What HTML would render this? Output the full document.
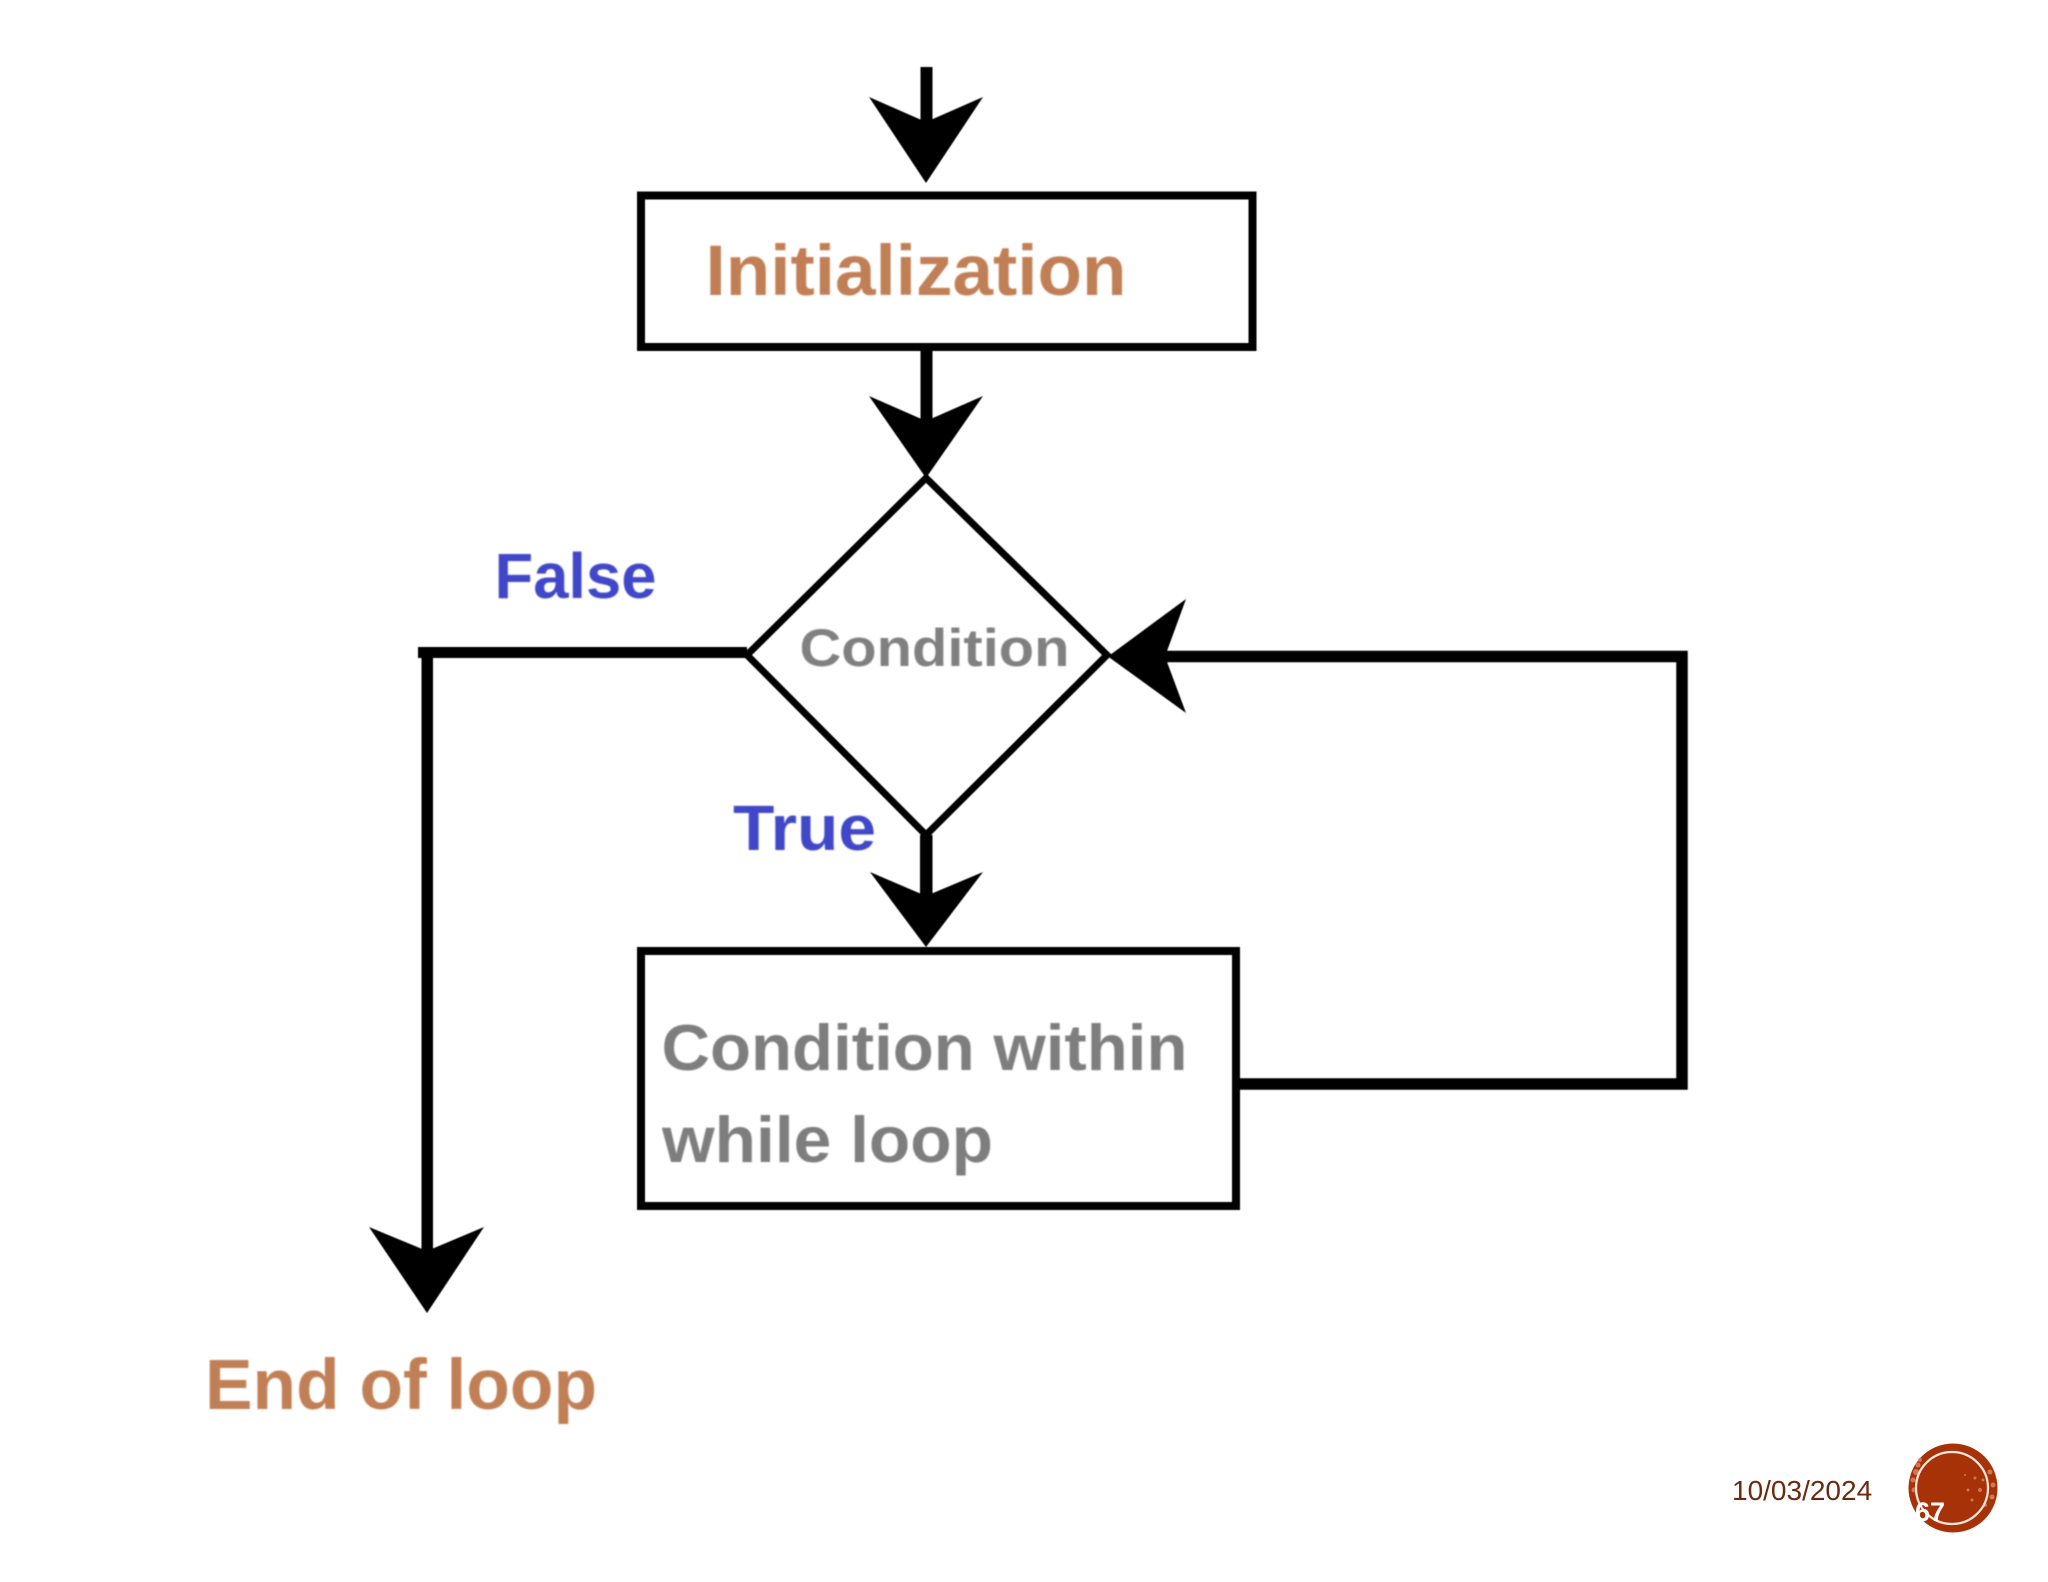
<!DOCTYPE html>
<html>
<head>
<meta charset="utf-8">
<style>
html,body{margin:0;padding:0;background:#fff;}
svg{display:block;}
.t{font-family:"Liberation Sans",sans-serif;font-weight:700;}
</style>
</head>
<body>
<svg width="2048" height="1582" viewBox="0 0 2048 1582" xmlns="http://www.w3.org/2000/svg">
<defs>
<filter id="b1" x="-5%" y="-5%" width="110%" height="110%"><feGaussianBlur stdDeviation="0.5"/></filter>
<filter id="b2" x="-5%" y="-20%" width="110%" height="140%"><feGaussianBlur stdDeviation="0.7"/></filter>
</defs>
<rect width="2048" height="1582" fill="#fff"/>
<g filter="url(#b1)">
<rect x="641" y="195.5" width="611.5" height="151.5" fill="none" stroke="#000" stroke-width="8"/>
<rect x="641" y="951" width="595" height="255" fill="none" stroke="#000" stroke-width="8"/>
<polygon points="926,478 1107,655 926,835 747,655" fill="none" stroke="#000" stroke-width="7"/>
<rect x="920.5" y="67" width="12" height="60" fill="#000"/>
<polygon points="869,97 926,122 983,97 926,183" fill="#000"/>
<rect x="920.5" y="347" width="12" height="85" fill="#000"/>
<polygon points="869,396 926,421 983,396 926,478" fill="#000"/>
<rect x="920" y="835" width="12.5" height="75" fill="#000"/>
<polygon points="870,872 926,896 983,872 926,947" fill="#000"/>
<rect x="418" y="647" width="329" height="11" fill="#000"/>
<rect x="421.5" y="647" width="11.5" height="620" fill="#000"/>
<polygon points="369,1227 427,1251 484,1227 427,1313" fill="#000"/>
<polygon points="1108,656.5 1186,599 1165,656.5 1186,713" fill="#000"/>
<path d="M1160,656.5 H1682 V1084 H1240" fill="none" stroke="#000" stroke-width="11.5"/>
</g>
<g class="t" filter="url(#b2)">
<text x="705.5" y="295" font-size="71" fill="#c17f54" textLength="421" lengthAdjust="spacingAndGlyphs">Initialization</text>
<text x="494.5" y="598" font-size="64" fill="#4046c8" textLength="162" lengthAdjust="spacingAndGlyphs">False</text>
<text x="799.5" y="666" font-size="53" fill="#808080" textLength="270" lengthAdjust="spacingAndGlyphs">Condition</text>
<text x="733" y="850" font-size="64" fill="#4046c8" textLength="143" lengthAdjust="spacingAndGlyphs">True</text>
<text x="661.5" y="1070" font-size="65" fill="#7e7e7e" textLength="526" lengthAdjust="spacingAndGlyphs">Condition within</text>
<text x="662" y="1162" font-size="65" fill="#7e7e7e" textLength="331" lengthAdjust="spacingAndGlyphs">while loop</text>
<text x="205" y="1409" font-size="71" fill="#c17f54" textLength="392" lengthAdjust="spacingAndGlyphs">End of loop</text>
</g>
<text x="1732" y="1500" font-family="Liberation Sans, sans-serif" font-size="28" fill="#6a2a10">10/03/2024</text>
<circle cx="1953" cy="1488" r="44.5" fill="#a83208"/>
<g fill="#d98a66" opacity="0.8">
<circle cx="1916" cy="1472" r="3"/><circle cx="1913" cy="1480" r="2.5"/><circle cx="1918" cy="1465" r="2.5"/><circle cx="1914" cy="1490" r="2.5"/><circle cx="1920" cy="1460" r="2"/>
<circle cx="1993" cy="1485" r="2.5"/><circle cx="1990" cy="1472" r="2.5"/><circle cx="1992" cy="1497" r="2.5"/><circle cx="1985" cy="1505" r="2"/>
<circle cx="1975" cy="1478" r="1.5"/><circle cx="1968" cy="1490" r="1.5"/><circle cx="1980" cy="1490" r="2"/><circle cx="1972" cy="1500" r="1.5"/><circle cx="1983" cy="1480" r="1.5"/><circle cx="1965" cy="1475" r="1"/>
</g>
<circle cx="1952" cy="1488" r="36" fill="none" stroke="#fbe9df" stroke-width="2.2"/>
<text x="1915" y="1521" font-family="Liberation Sans, sans-serif" font-weight="700" font-size="27" fill="#fff">67</text>
</svg>
</body>
</html>
